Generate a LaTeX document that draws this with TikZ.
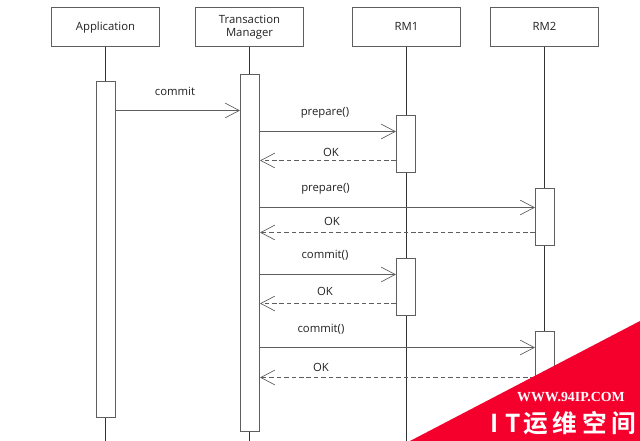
\documentclass[tikz,border=0pt]{standalone}
\usepackage{fontspec}
\usetikzlibrary{arrows.meta}
\setmainfont{Open Sans}
\newfontfamily\cjkf[BoldFont=Noto Sans CJK SC Bold]{Noto Sans CJK SC}
\newfontfamily\serf{Liberation Serif}
\definecolor{edge}{HTML}{5E5E5E}
\definecolor{life}{HTML}{333333}
\definecolor{ink}{HTML}{222222}
\definecolor{banner}{HTML}{F5002D}
\newcommand{\lineat}[2]{\makebox[0pt]{\raisebox{#1}[0pt][0pt]{#2}}}
\tikzset{
  x=0.75pt,y=-0.75pt,
  actor/.style={draw=edge,line width=0.8pt,fill=white,minimum width=81pt,minimum height=29.25pt,inner sep=0pt,font=\fontsize{8.5pt}{10pt}\selectfont,text=ink},
  act/.style={draw=edge,line width=0.8pt,fill=white,minimum width=14.25pt,inner sep=0pt},
  lifeline/.style={draw=life,line width=0.75pt},
  msg/.style={draw=edge,line width=0.8pt,-{Straight Barb[length=10.5pt,width=11pt,line width=0.5pt]}},
  reply/.style={msg,dash pattern=on 3.4pt off 2.2pt},
  lbl/.style={font=\fontsize{8.5pt}{10pt}\selectfont,text=ink,inner sep=0pt},
}
\begin{document}
\begin{tikzpicture}
\useasboundingbox (0,0) rectangle (640,441);
% actors
\node[actor] (app) at (105.5,27) {\lineat{-3pt}{Application}};
\node[actor] (tm) at (249.5,27) {\lineat{2.25pt}{Transaction}\lineat{-7.5pt}{Manager}};
\node[actor] (rm1) at (406.5,27) {\lineat{-3pt}{RM1}};
\node[actor] (rm2) at (544.5,27) {\lineat{-3pt}{RM2}};
% lifeline ends
\coordinate (append) at (105.5,441);
\coordinate (tmend) at (249.5,441);
\coordinate (rm1end) at (406.5,441);
\coordinate (rm2end) at (544.5,441);
\draw[lifeline] (app) -- (append);
\draw[lifeline] (tm) -- (tmend);
\draw[lifeline] (rm1) -- (rm1end);
\draw[lifeline] (rm2) -- (rm2end);
% activations
\node[act,minimum height=252pt] (appa) at (106,249.5) {};
\node[act,minimum height=267.75pt] (tma) at (250,253) {};
\node[act,minimum height=42.75pt] (rm1a) at (406,144) {};
\node[act,minimum height=42.75pt] (rm2a) at (545,217) {};
\node[act,minimum height=42.75pt] (rm1b) at (406,287) {};
\node[act,minimum height=60pt] (rm2b) at (545,371.5) {};
% messages
\foreach \n/\y in {a/110.5,b/131.5,c/160.5,d/207.5,e/232.5,f/274.5,g/303.5,h/347.5,i/377.5}
  \coordinate (y\n) at (0,\y);
\draw[msg] (appa.east |- ya) -- (tma.west |- ya);
\draw[msg] (tma.east |- yb) -- (rm1a.west |- yb);
\draw[reply] (rm1a.west |- yc) -- (tma.east |- yc);
\draw[msg] (tma.east |- yd) -- (rm2a.west |- yd);
\draw[reply] (rm2a.west |- ye) -- (tma.east |- ye);
\draw[msg] (tma.east |- yf) -- (rm1b.west |- yf);
\draw[reply] (rm1b.west |- yg) -- (tma.east |- yg);
\draw[msg] (tma.east |- yh) -- (rm2b.west |- yh);
\draw[reply] (rm2b.west |- yi) -- (tma.east |- yi);
% labels
\node[lbl] (l1) at (175,91) {commit};
\node[lbl] (l2) at (325,112.5) {prepare()};
\node[lbl] (l3) at (331,152) {OK};
\node[lbl] (l4) at (325.5,189) {prepare()};
\node[lbl] (l5) at (332,221) {OK};
\node[lbl] (l6) at (325,255) {commit()};
\node[lbl] (l7) at (325,291) {OK};
\node[lbl] (l8) at (321,329.5) {commit()};
\node[lbl] (l9) at (321,367.5) {OK};
% banner
\fill[banner] (640,321) -- (410,441) -- (640,441) -- cycle;
\node[inner sep=0pt,text=white,font=\serf\bfseries\fontsize{10.4pt}{11pt}\selectfont] (w) at (571,397) {WWW.94IP.COM};
\node[inner sep=0pt,text=white,font=\cjkf\bfseries\fontsize{18.5pt}{20pt}\selectfont] (t) at (563.5,423) {I\hspace{5pt}T\hspace{2pt}运\hspace{3.5pt}维\hspace{3.5pt}空\hspace{3.5pt}间};
\end{tikzpicture}
\end{document}
